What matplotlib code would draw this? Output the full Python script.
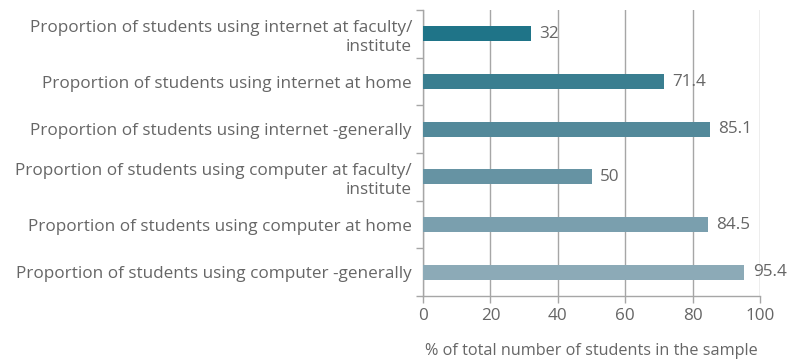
import matplotlib
matplotlib.use("Agg")
import matplotlib.pyplot as plt

# Categories listed top to bottom
categories = [
    "Proportion of students using internet at faculty/\ninstitute",
    "Proportion of students using internet at home",
    "Proportion of students using internet -generally",
    "Proportion of students using computer at faculty/\ninstitute",
    "Proportion of students using computer at home",
    "Proportion of students using computer -generally",
]
values = [32, 71.4, 85.1, 50, 84.5, 95.4]
bar_colors = ["#1f7488", "#3a7e90", "#53899a", "#6693a3", "#7a9fae", "#8caab7"]
x_ticks = [0, 20, 40, 60, 80, 100]
x_label = "% of total number of students in the sample"

plt.rcParams['font.family'] = ['Open Sans', 'DejaVu Sans']
text_gray = "#666666"
line_gray = "#a6a6a6"
fs = 12.3

fig = plt.figure(figsize=(7.91, 3.60), dpi=100)
ax = fig.add_axes([423 / 791, 1 - 296 / 360, (760 - 423) / 791, (296 - 10) / 360])

n = len(categories)
pos = list(range(n))
ax.barh(pos, values, height=0.31, color=bar_colors, zorder=3)
for p, v in zip(pos, values):
    ax.annotate(f"{v:g}", (v, p), xytext=(6, 0), textcoords="offset points",
                va="center", ha="left", fontsize=fs, color=text_gray, zorder=4)

ax.set_ylim(n - 0.5, -0.5)
ax.set_xlim(0, 100)
ax.set_yticks(pos)
ax.set_yticklabels(categories, fontsize=fs, color=text_gray, ha="right",
                   multialignment="right", linespacing=1.25)
ax.tick_params(axis="y", length=0, pad=8)
# tick marks between categories
ax.set_yticks([p + 0.5 for p in range(-1, n)], minor=True)
ax.tick_params(axis="y", which="minor", length=5, color=line_gray, width=1)

ax.set_xticks(x_ticks)
ax.set_xticklabels([str(t) for t in x_ticks], fontsize=fs, color=text_gray)
ax.tick_params(axis="x", length=5, color=line_gray, width=1, pad=4)
ax.set_xlabel(x_label, fontsize=11.7, color=text_gray, labelpad=13)

ax.grid(axis="x", color=line_gray, linewidth=1, zorder=0)
for side in ("top", "right"):
    ax.spines[side].set_visible(False)
for side in ("left", "bottom"):
    ax.spines[side].set_color(line_gray)
    ax.spines[side].set_linewidth(1)

fig.savefig("out.png", dpi=100)
